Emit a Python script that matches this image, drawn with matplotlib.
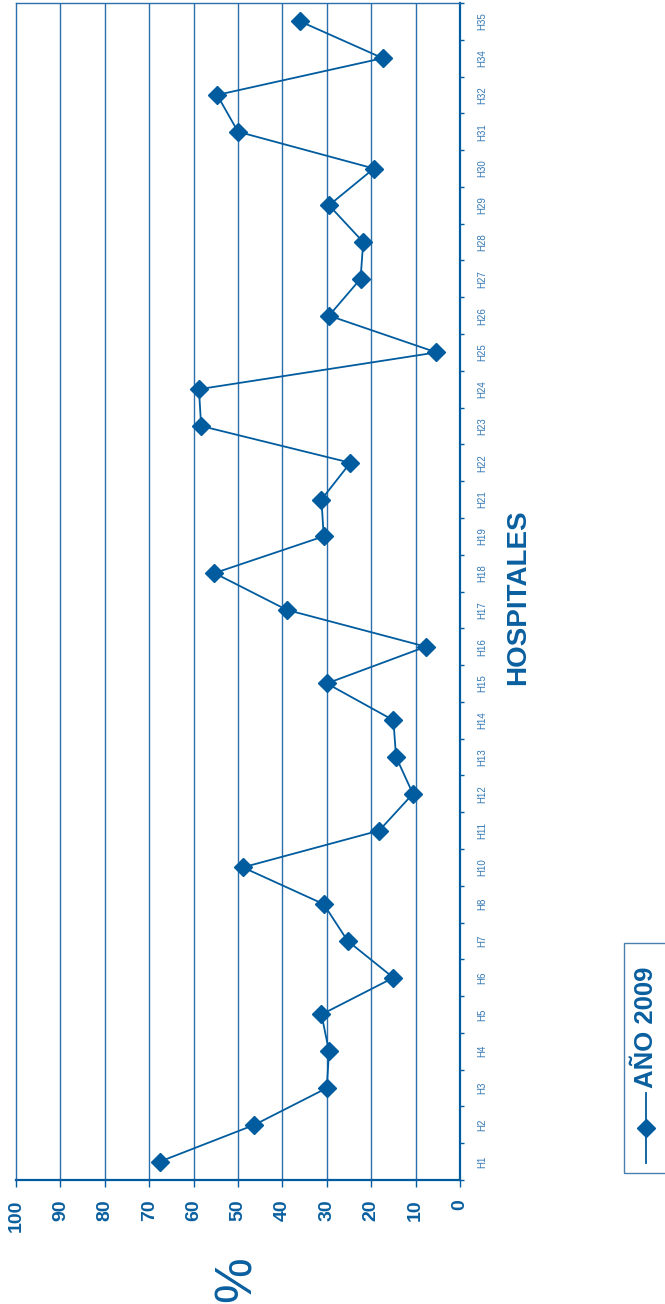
import matplotlib
matplotlib.use("Agg")
import matplotlib.pyplot as plt
from matplotlib.patches import Rectangle
from matplotlib.lines import Line2D
import numpy as np

plt.rcParams["font.family"] = ["Liberation Sans", "DejaVu Sans"]

hospitals = ["H1", "H2", "H3", "H4", "H5", "H6", "H7", "H8", "H10", "H11",
             "H12", "H13", "H14", "H15", "H16", "H17", "H18", "H19", "H21",
             "H22", "H23", "H24", "H25", "H26", "H27", "H28", "H29", "H30",
             "H31", "H32", "H34", "H35"]
pct_2009 = [67.6, 46.3, 30.0, 29.5, 31.2, 15.0, 25.3, 30.7, 48.9, 18.2,
            10.6, 14.4, 15.0, 30.0, 7.7, 39.0, 55.3, 30.7, 31.2,
            24.7, 58.3, 58.8, 5.3, 29.5, 22.4, 21.8, 29.5, 19.4,
            50.0, 54.7, 17.4, 36.0]
value_ticks = [0, 10, 20, 30, 40, 50, 60, 70, 80, 90, 100]

BLUE = "#005C9E"
GRID = "#2A70AD"
TXT = "#0A5F9F"
LIGHT = "#3579B4"

W, H = 665, 1304
fig = plt.figure(figsize=(W / 100, H / 100), dpi=100)
fig.patch.set_facecolor("white")


def fx(px):
    return px / W


def fy(py):
    return 1 - py / H


# plot area (chart is rotated: values run right->left, hospitals bottom->top)
left, right, top, bottom = 16, 460, 3, 1180
ax = fig.add_axes([fx(left), fy(bottom), fx(right - left), (bottom - top) / H])

pos = np.arange(len(hospitals))
ax.plot(pct_2009, pos, color=BLUE, lw=1.3, marker="D", ms=9.4,
        markeredgecolor=BLUE, markerfacecolor=BLUE, zorder=3, clip_on=False)

ax.set_xlim(100, 0)
ax.set_ylim(-0.5, len(hospitals) - 0.5)

# value axis (bottom)
ax.set_xticks(value_ticks)
ax.set_xticklabels([str(v) for v in value_ticks], rotation=90, fontsize=14,
                   fontweight="bold", color=TXT)
ax.tick_params(axis="x", length=5, width=1, color=BLUE, pad=9)
for v in value_ticks[1:-1]:
    ax.axvline(v, color=GRID, lw=1.0, zorder=1)

# category axis (right)
ax.yaxis.tick_right()
ax.set_yticks(np.arange(-0.5, len(hospitals), 1.0))
ax.set_yticklabels([])
ax.tick_params(axis="y", which="major", length=3, width=1, color=BLUE)
ax.set_yticks(pos, minor=True)
ax.set_yticklabels(hospitals, minor=True, rotation=90, fontsize=7,
                   color=LIGHT, va="center", ha="center")
ax.tick_params(axis="y", which="minor", length=0, pad=16)
for lab in ax.get_yticklabels(minor=True):
    lab.set_horizontalalignment("center")

for side in ["top", "left"]:
    ax.spines[side].set_color(GRID)
    ax.spines[side].set_linewidth(1.0)
for side in ["right", "bottom"]:
    ax.spines[side].set_color(BLUE)
    ax.spines[side].set_linewidth(1.6)

# axis titles
fig.text(fx(518), fy(597), "HOSPITALES", rotation=90, fontsize=20,
         fontweight="bold", color=TXT, ha="center", va="center")
fig.text(fx(237), fy(1279), "%", rotation=90, fontsize=37,
         color=TXT, ha="center", va="center")

# legend (drawn rotated like the rest of the chart)
fig.patches.append(Rectangle((fx(624), fy(1173)), fx(50), (1173 - 943) / H,
                             transform=fig.transFigure, fill=False,
                             edgecolor="#4A80B0", lw=1.0))
fig.lines.append(Line2D([fx(646), fx(646)], [fy(1163), fy(1093)],
                        transform=fig.transFigure, color=BLUE, lw=1.3))
fig.lines.append(Line2D([fx(646)], [fy(1128)], transform=fig.transFigure,
                        marker="D", ms=9.4, color=BLUE))
fig.text(fx(646), fy(1088), "AÑO 2009", rotation=90, fontsize=18.5,
         fontweight="bold", color=TXT, ha="center", va="bottom")

fig.savefig("out.png", dpi=100)
